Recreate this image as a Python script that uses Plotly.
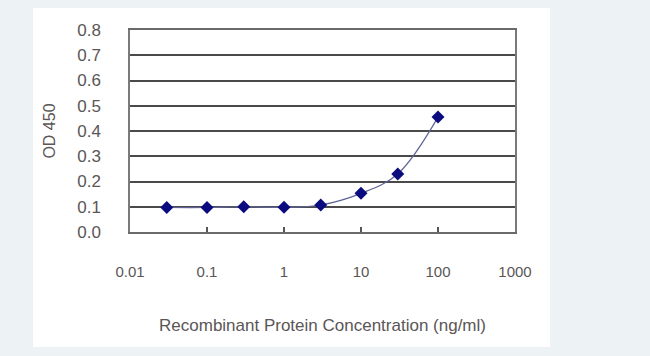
import plotly.graph_objects as go

concentration = [0.03, 0.1, 0.3, 1, 3, 10, 30, 100]
od450 = [0.097, 0.097, 0.100, 0.098, 0.107, 0.153, 0.230, 0.455]
x_tick_vals = [0.01, 0.1, 1, 10, 100, 1000]
x_tick_text = ["0.01", "0.1", "1", "10", "100", "1000"]
y_tick_vals = [0.0, 0.1, 0.2, 0.3, 0.4, 0.5, 0.6, 0.7, 0.8]
y_tick_text = ["0.0", "0.1", "0.2", "0.3", "0.4", "0.5", "0.6", "0.7", "0.8"]

W, H = 650, 356
L, R, T, B = 130, 135, 30, 124
pw, ph = W - L - R, H - T - B

def px_x(px):
    return (px - L) / pw

def px_y(py):
    return (H - B - py) / ph

fig = go.Figure()
fig.add_trace(go.Scatter(
    x=concentration, y=od450, mode="lines+markers",
    line=dict(color="#5f6398", width=1.2, shape="spline"),
    marker=dict(symbol="diamond", size=10, color="#0b0b80"),
    showlegend=False, hoverinfo="x+y",
))

fig.add_shape(type="rect", xref="paper", yref="paper",
              x0=px_x(33), x1=px_x(550), y0=px_y(347), y1=px_y(8),
              fillcolor="white", line=dict(width=0), layer="below")

font_txt = "#5a5656"
fig.update_layout(
    width=W, height=H,
    margin=dict(l=L, r=R, t=T, b=B, pad=0),
    paper_bgcolor="#edf2f5",
    plot_bgcolor="white",
    font=dict(family="Liberation Sans, Arial, sans-serif", color=font_txt),
    xaxis=dict(
        type="log", range=[-2, 3],
        tickmode="array", tickvals=x_tick_vals, ticktext=x_tick_text,
        ticks="inside", ticklen=5, tickcolor="#555555", tickwidth=1.5,
        showgrid=False, zeroline=False,
        showline=True, linecolor="#6a6a6a", linewidth=2, mirror=True,
        tickfont=dict(size=15, color=font_txt),
        ticklabelstandoff=25,
        title=dict(text="Recombinant Protein Concentration (ng/ml)",
                   font=dict(size=17, color=font_txt), standoff=40),
    ),
    yaxis=dict(
        range=[0, 0.8],
        tickmode="array", tickvals=y_tick_vals, ticktext=y_tick_text,
        ticks="", showgrid=True, gridcolor="#4a4a4a", gridwidth=2,
        zeroline=False,
        showline=True, linecolor="#7a7a7a", linewidth=1.5, mirror=True,
        tickfont=dict(size=17, color=font_txt,
                      family="Liberation Sans Narrow, Liberation Sans, sans-serif"),
        ticklabelstandoff=24,
        title=dict(text="OD 450", font=dict(size=16, color=font_txt), standoff=18),
    ),
)

fig.write_html(
    "out.html",
    config={"displayModeBar": False},
    post_script="document.body.style.margin='0';document.body.style.background='#edf2f5';",
)
